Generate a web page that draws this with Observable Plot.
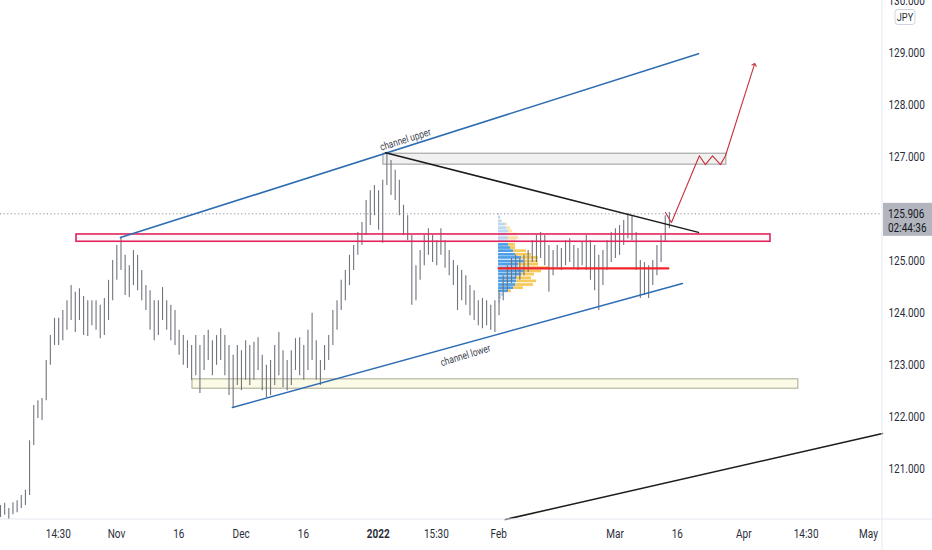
<!DOCTYPE html>
<html><head><meta charset="utf-8">
<script src="https://cdn.jsdelivr.net/npm/d3@7"></script>
<script src="https://cdn.jsdelivr.net/npm/@observablehq/plot@0.6"></script>
<style>
html,body{margin:0;padding:0;background:#fff;}
#chart{width:932px;height:550px;overflow:hidden;}
</style></head><body><div id="chart"></div>
<script>
// ---------- data ----------
const xDomain = ["2021-10-04T02:00:00Z", "2022-05-04T09:00:00Z"];
const yDomain = [120.04, 130.0];
const barStart = "2021-10-04T02:00:00Z"; // one bar per calendar day
const highs = [120.31,120.35,120.25,120.36,120.40,120.50,120.60,121.55,122.23,122.32,
122.36,123.09,123.57,123.90,123.90,124.05,124.24,124.53,124.40,124.47,
124.32,124.24,124.24,124.24,124.15,124.28,124.63,125.01,125.30,125.45,
125.11,124.91,125.20,125.11,124.82,124.53,124.43,124.24,124.24,124.49,
124.24,124.15,124.05,123.67,123.57,123.47,123.38,123.57,123.38,123.57,
123.67,123.47,123.57,123.70,123.57,123.38,123.19,123.38,123.28,123.47,
123.38,123.44,123.53,123.19,123.00,123.09,123.38,123.63,123.28,123.09,
123.28,123.51,123.53,123.38,123.67,124.00,123.47,123.09,123.38,123.57,
124.05,124.24,124.63,124.82,125.11,125.30,125.55,125.74,126.16,126.35,
126.45,126.35,126.55,127.08,126.93,126.74,126.55,126.07,125.87,125.49,
124.91,125.20,125.49,125.62,125.49,125.39,125.62,125.39,125.20,125.01,
124.91,124.82,124.72,124.53,124.43,124.24,124.28,124.24,124.15,124.24,
124.43,124.72,124.91,125.05,125.11,125.05,125.11,125.20,125.39,125.49,
125.55,125.49,125.30,125.20,125.30,125.24,125.39,125.43,125.30,125.24,
125.36,125.49,125.39,125.30,125.11,125.20,125.39,125.55,125.62,125.68,
125.78,125.91,125.87,125.55,125.01,124.97,124.91,125.01,125.30,125.49,
125.87,125.93];
const lows = [120.08,120.12,120.04,120.13,120.17,120.25,120.31,120.50,121.46,121.98,
121.94,122.32,123.00,123.38,123.38,123.47,123.67,123.86,123.63,123.86,
123.57,123.55,123.76,123.67,123.51,123.57,123.86,124.24,124.63,124.82,
124.34,124.30,124.53,124.43,124.24,124.05,123.67,123.47,123.57,123.86,
123.67,123.47,123.38,123.19,123.00,122.94,122.71,122.80,122.46,122.90,
123.09,122.80,123.00,123.09,122.80,122.42,122.17,122.61,122.51,122.71,
122.61,122.71,122.90,122.51,122.38,122.42,122.61,122.80,122.57,122.51,
122.61,122.90,122.80,122.71,122.90,123.09,122.71,122.61,122.90,123.09,
123.38,123.67,124.05,124.24,124.53,124.82,125.11,125.30,125.49,125.68,
125.87,125.59,125.34,126.45,126.26,126.16,125.87,125.49,125.39,124.15,
124.24,124.63,124.91,125.11,124.97,124.91,125.11,124.86,124.72,124.53,
124.05,124.24,124.15,123.95,123.86,123.76,123.70,123.76,123.67,123.63,
123.95,124.24,124.43,124.57,124.66,124.63,124.72,124.78,124.97,124.97,
125.05,124.91,124.40,124.72,124.86,124.82,124.91,124.97,124.86,124.82,
124.91,124.82,124.63,124.43,124.05,124.53,124.82,124.97,125.05,125.11,
125.30,125.43,125.39,124.82,124.28,124.34,124.28,124.53,124.72,124.97,
125.36,125.62];
const lastPrice = 125.906;
const countdown = "02:44:36";
const currency = "JPY";
const priceTicks = [121,122,123,124,125,126,127,128,129,130];
const timeTickDates = ["2021-10-18","2021-11-01","2021-11-16","2021-12-01","2021-12-16","2022-01-03","2022-01-17","2022-02-01","2022-03-01","2022-03-16","2022-04-01","2022-04-16","2022-05-01"];
const timeTickLabels = ["14:30","Nov","16","Dec","16","2022","15:30","Feb","Mar","16","Apr","14:30","May"];

// drawings
const upperChannelDates = ["2021-11-01T23:00:00Z","2022-03-21T02:00:00Z"];
const upperChannelPrices = [125.45,128.98];
const lowerChannelDates = ["2021-11-28T22:00:00Z","2022-03-17T05:00:00Z"];
const lowerChannelPrices = [122.19,124.57];
const descLineDates = ["2022-01-04T18:00:00Z","2022-03-21T02:00:00Z"];
const descLinePrices = [127.08,125.55];
const longTrendDates = ["2022-02-02T14:00:00Z","2022-05-04T09:00:00Z"];
const longTrendPrices = [120.04,121.69];
const pinkZoneDates = ["2021-10-22T09:00:00Z","2022-04-07T10:00:00Z"];
const pinkZonePrices = [125.37,125.51];
const greyZoneDates = ["2022-01-04T06:00:00Z","2022-03-27T19:00:00Z"];
const greyZonePrices = [126.85,127.06];
const beigeZoneDates = ["2021-11-19T07:00:00Z","2022-04-14T03:00:00Z"];
const beigeZonePrices = [122.55,122.73];
const projectionDates = ["2022-03-13T03:00:00Z","2022-03-14T14:00:00Z","2022-03-21T07:00:00Z","2022-03-22T18:00:00Z","2022-03-24T11:00:00Z","2022-03-26T09:00:00Z","2022-03-27T14:00:00Z","2022-04-03T13:00:00Z"];
const projectionPrices = [125.93,125.74,127.02,126.85,127.02,126.85,127.02,128.77];
const labelTexts = ["channel upper","channel lower"];
const labelDates = ["2022-01-09T13:00:00Z","2022-01-24T00:00:00Z"];
const labelPrices = [127.33,123.19];
const labelAngles = [-17.7,-17];

// volume profile (fixed range)
const vpStart = "2022-01-31T23:00:00Z";
const vpEnd = "2022-03-13T20:00:00Z";
const vpPrices = [125.89,125.83,125.76,125.70,125.63,125.57,125.51,125.44,125.38,125.31,125.25,125.19,125.12,125.06,124.99,124.93,124.86,124.80,124.74,124.67,124.61,124.54,124.48,124.42,124.35,124.29,124.22];
const vpUp =   [1,2,3,7,8,10,9,10,9,10,12,15,17,23,25,20,20,25,23,18,18,17,15,10,5,3,2];
const vpDown = [0,0,1,2,4,4,10,10,9,7,5,13,16,17,15,20,30,18,13,15,20,18,10,3,0,0,0];
const vpValueArea = [0,0,0,0,0,0,0,0,0,1,1,1,1,1,1,1,1,1,1,1,1,1,1,1,0,0,0];
const vpPocIndex = 16;
const vpPocPrice = 124.86;

// ---------- build ----------
const FONT = "Roboto,'Liberation Sans',sans-serif";
const TEXT_SQUEEZE = 0.8;
const D = s => new Date(s);
const t0 = D(barStart);
const bars = highs.map((h,i)=>({date: d3.utcDay.offset(t0,i), high:h, low:lows[i]}));
const seg = (ds,ps) => ds.map((d,i)=>({x:D(d), y:ps[i]}));
const zone = (ds,ps) => [{x1:D(ds[0]), x2:D(ds[1]), y1:ps[0], y2:ps[1]}];
const msPerVolUnit = 86400000/4.155;
const vpT0 = D(vpStart);
const vpRows = [];
vpPrices.forEach((p,i)=>{
  const upEnd = new Date(+vpT0 + vpUp[i]*msPerVolUnit);
  const dnEnd = new Date(+upEnd + vpDown[i]*msPerVolUnit);
  const va = vpValueArea[i] === 1;
  vpRows.push({x1:vpT0, x2:upEnd, p, fill: va ? "#4f9fe6" : "#b9d8f4"});
  if (vpDown[i] > 0) vpRows.push({x1:upEnd, x2:dnEnd, p, fill: i===vpPocIndex ? "#f6a43a" : (va ? "#f5c95c" : "#fbe4ad")});
});
const labelMap = new Map(timeTickDates.map((d,i)=>[D(d+"T00:00:00Z").getTime(), timeTickLabels[i]]));
const labels = labelTexts.map((t,i)=>({t, x:D(labelDates[i]), y:labelPrices[i], r:labelAngles[i]}));

const plot = Plot.plot({
  width: 932, height: 550,
  marginTop: 0, marginLeft: 0, marginRight: 50, marginBottom: 31,
  style: {fontFamily: FONT, fontSize: "12px", color: "#131722", background: "#fff"},
  x: {type: "utc", domain: xDomain.map(D)},
  y: {domain: yDomain},
  marks: [
    Plot.rect(zone(beigeZoneDates, beigeZonePrices), {x1:"x1",x2:"x2",y1:"y1",y2:"y2", fill:"#fbfae6", stroke:"#a9a88f", strokeWidth:1}),
    Plot.rect(zone(greyZoneDates, greyZonePrices), {x1:"x1",x2:"x2",y1:"y1",y2:"y2", fill:"#f1f1f1", stroke:"#9a9a9a", strokeWidth:1}),
    Plot.rect(vpRows, {x1:"x1", x2:"x2", y1: d=>d.p-0.026, y2: d=>d.p+0.026, fill:"fill"}),
    Plot.ruleX(bars, {x:"date", y1:"low", y2:"high", stroke:"#70747d", strokeWidth:1.1}),
    Plot.rect(zone(pinkZoneDates, pinkZonePrices), {x1:"x1",x2:"x2",y1:"y1",y2:"y2", fill:"#e91e63", fillOpacity:0.03, stroke:"#e0245e", strokeWidth:1.6}),
    Plot.line(seg([vpStart, vpEnd], [vpPocPrice, vpPocPrice]), {x:"x", y:"y", stroke:"#f0262c", strokeWidth:2.2}),
    Plot.ruleY([lastPrice], {stroke:"#8c8f98", strokeDasharray:"1.2,2.4", strokeWidth:1}),
    Plot.line(seg(upperChannelDates, upperChannelPrices), {x:"x", y:"y", stroke:"#2f6db3", strokeWidth:1.6}),
    Plot.line(seg(lowerChannelDates, lowerChannelPrices), {x:"x", y:"y", stroke:"#2f6db3", strokeWidth:1.6}),
    Plot.line(seg(descLineDates, descLinePrices), {x:"x", y:"y", stroke:"#1c1c1c", strokeWidth:1.5}),
    Plot.line(seg(longTrendDates, longTrendPrices), {x:"x", y:"y", stroke:"#1c1c1c", strokeWidth:1.5}),
    Plot.line(seg(projectionDates, projectionPrices), {x:"x", y:"y", stroke:"#c8313a", strokeWidth:1.1, markerEnd:"arrow"}),
    Plot.text(labels, {x:"x", y:"y", text:"t", rotate: d=>d.r, fontSize:10.5, fill:"#434651"}),
    Plot.axisY(priceTicks, {anchor:"right", tickSize:0, tickPadding:6, tickFormat: d=>d.toFixed(3), label:null, fill:"#2a2e39", fontSize:12.5, textAnchor:"start"}),
    Plot.axisX(timeTickDates.map(d=>D(d+"T00:00:00Z")), {tickSize:0, tickPadding:10, tickFormat: d=>labelMap.get(d.getTime()), label:null, fill:"#2a2e39", fontSize:12.5})
  ]
});

// chrome: separators, currency tag and last-price label, placed through the scales
const xs = plot.scale("x"), ys = plot.scale("y");
const svg = d3.select(plot);
const W = +plot.getAttribute("width"), H = +plot.getAttribute("height");
const xr = xs.range[1], yb = ys.range[0];
svg.append("line").attr("x1",xr).attr("x2",xr).attr("y1",0).attr("y2",H).attr("stroke","#e6e8ee");
svg.append("line").attr("x1",0).attr("x2",W).attr("y1",yb).attr("y2",yb).attr("stroke","#e6e8ee");
const yTop = ys.apply(yDomain[1]);
const tag = svg.append("g").attr("transform",`translate(${xr+23},${yTop+17})`);
tag.append("rect").attr("x",-10).attr("y",-7.5).attr("width",20).attr("height",15).attr("rx",3).attr("fill","#fff").attr("stroke","#d1d4dc");
tag.append("text").text(currency).attr("text-anchor","middle").attr("dy","0.35em").attr("font-size",11.5).attr("fill","#2a2e39");
const yp = ys.apply(lastPrice);
const box = svg.append("g");
box.append("rect").attr("x",xr+1).attr("y",yp-10.5).attr("width",W-xr).attr("height",33).attr("fill","#b2b5bd");
box.append("text").text(lastPrice.toFixed(3)).attr("transform",`translate(${xr+6},${yp})`).attr("text-anchor","start").attr("dy","0.35em").attr("font-size",12.5).attr("fill","#131722");
box.append("text").text(countdown).attr("transform",`translate(${xr+6},${yp+14})`).attr("text-anchor","start").attr("dy","0.35em").attr("font-size",12.5).attr("fill","#131722");
svg.selectAll("text").filter(function(){return this.textContent==="2022";}).attr("font-weight","bold");

document.getElementById("chart").appendChild(plot);

// the reference's lettering is horizontally compressed: squeeze each label along its baseline
svg.selectAll("text").each(function(){
  if (this.querySelector("tspan")) return;
  const L = this.getComputedTextLength();
  if (L > 0) {
    this.setAttribute("textLength", (L*TEXT_SQUEEZE).toFixed(2));
    this.setAttribute("lengthAdjust", "spacingAndGlyphs");
  }
});
</script>
</body></html>
